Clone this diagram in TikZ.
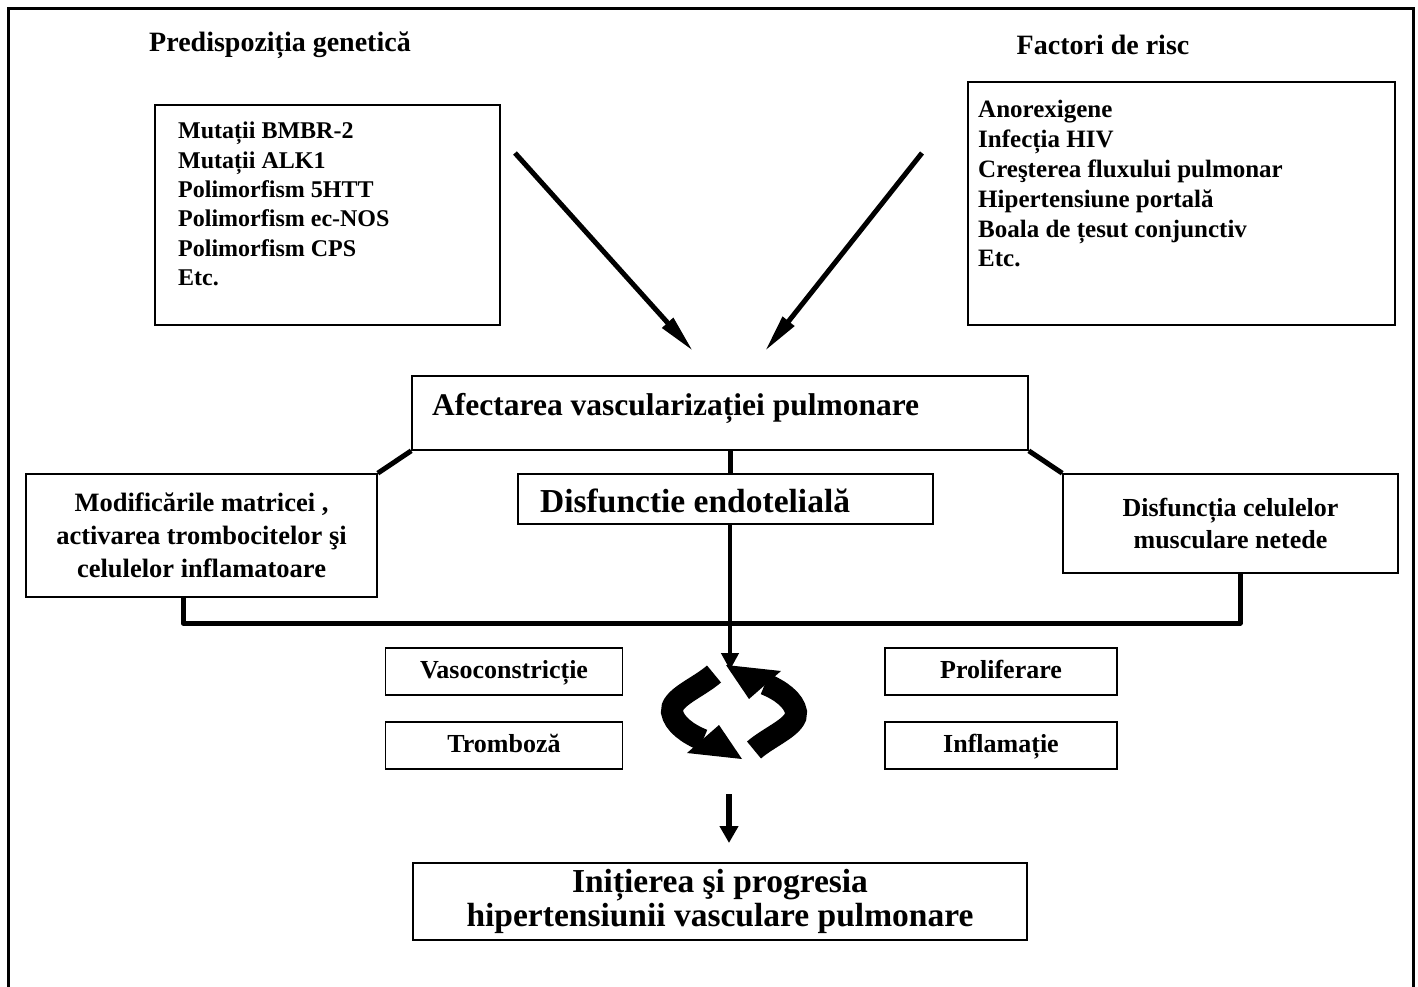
\documentclass[tikz,border=0pt]{standalone}
\usepackage{fontspec}
\setmainfont{Liberation Serif}
\usetikzlibrary{arrows.meta}
\newcommand{\myfs}[2]{\fontsize{#1}{#2}\selectfont}
\begin{document}
\begin{tikzpicture}[x=1pt,y=-1pt,
  box/.style={draw, line width=1.6pt, fill=white, inner sep=0pt, align=center, font=\bfseries\myfs{26}{32.5}},
  smallbox/.style={box, minimum height=47pt, text height=18pt, text depth=5pt, font=\bfseries\myfs{26}{30}},
  lbl/.style={inner sep=0pt, align=left, anchor=west},
  title/.style={inner sep=0pt, font=\bfseries\myfs{28}{32}},
  conn/.style={line width=5pt, line join=round},
  bigarrow/.style={line width=5pt, -{Triangle[length=38pt,width=14pt]}},
  frame/.style={line width=3pt},
  cyc/.style={line width=22pt},
  downarrow/.style={line width=4.5pt, -{Triangle[length=17pt,width=17pt]}},
]
\useasboundingbox (0,0) rectangle (1418,987);
\draw[frame] (8,987) -- (8,9) -- (1413,9) -- (1413,987);

% titles
\node[title] (t1) at (280,45) {Predispoziția genetică};
\node[title] (t2) at (1103,45) {Factori de risc};

% top boxes
\node[box, minimum width=345pt, minimum height=220pt] (G) at (327.5,215) {};
\node[lbl, font=\bfseries\myfs{24}{29.4}] (Gt) at (178,204) {Mutații BMBR-2\\Mutații ALK1\\Polimorfism 5HTT\\Polimorfism ec-NOS\\Polimorfism CPS\\Etc.};
\node[box, minimum width=427pt, minimum height=243pt] (R) at (1181.5,203.5) {};
\node[lbl, font=\bfseries\myfs{25}{29.8}] (Rt) at (978,184) {Anorexigene\\Infecția HIV\\Creşterea fluxului pulmonar\\Hipertensiune portală\\Boala de țesut conjunctiv\\Etc.};

% central box
\node[box, minimum width=616pt, minimum height=74pt] (A) at (720,413) {};
\node[lbl, font=\bfseries\myfs{31.5}{34}] (At) at (432,408) {Afectarea vascularizației pulmonare};

% arrows into central box
\coordinate (g1) at (515,153);
\coordinate (g2) at (693,351);
\coordinate (r1) at (922,153);
\coordinate (r2) at (765,351);
\draw[bigarrow] (g1) -- (g2);
\draw[bigarrow] (r1) -- (r2);

% second row
\node[box, minimum width=351pt, minimum height=123pt, font=\bfseries\myfs{26.5}{33}] (L) at (201.5,535.5) {Modificările matricei ,\\activarea trombocitelor şi\\celulelor inflamatoare};
\node[box, minimum width=335pt, minimum height=99pt, font=\bfseries\myfs{26}{32}] (M) at (1230.5,523.5) {Disfuncția celulelor\\musculare netede};
\node[box, minimum width=415pt, minimum height=50pt] (D) at (725.5,499) {};
\node[lbl, font=\bfseries\myfs{33.5}{36}] (Dt) at (540,501) {Disfunctie endotelială};

\draw[conn] (A.south west) -- (L.north east);
\draw[conn] (A.south east) -- (M.north west);

\coordinate (vtop) at (730,450);
\coordinate (cyctop) at (730,670);
\draw[conn] (vtop) -- (vtop |- D.north);
\draw[downarrow] (vtop |- D.south) -- (cyctop);

\coordinate (lb) at (183,623);
\coordinate (rb) at (1240,623);
\draw[conn] (L.south -| lb) -- (lb) -- (rb) -- (M.south -| rb);

% small boxes
\node[smallbox, minimum width=237pt] (V) at (504,671.5) {Vasoconstricție};
\node[smallbox, minimum width=237pt] (T) at (504,745.5) {Tromboză};
\node[smallbox, minimum width=232pt] (P) at (1001,671.5) {Proliferare};
\node[smallbox, minimum width=232pt] (I) at (1001,745.5) {Inflamație};

% cycle arrows
\draw[cyc] (714,674) .. controls (698,688) and (670,698) .. (672,712) .. controls (674,724) and (688,734) .. (703,740);
\fill (687,753) -- (719,725) -- (742,759) -- cycle;
\draw[cyc] (754,750) .. controls (770,736) and (798,726) .. (796,712) .. controls (794,700) and (780,690) .. (765,684);
\fill (781,671) -- (749,699) -- (726,665) -- cycle;

% final
\node[box, minimum width=614pt, minimum height=77pt, font=\bfseries\myfs{33.5}{34}] (F) at (720,901.5) {Inițierea şi progresia\\hipertensiunii vasculare pulmonare};
\coordinate (b1) at (729,794);
\coordinate (b2) at (729,843);
\draw[line width=6pt, -{Triangle[length=17pt,width=18pt]}] (b1) -- (b2);
\end{tikzpicture}
\end{document}
